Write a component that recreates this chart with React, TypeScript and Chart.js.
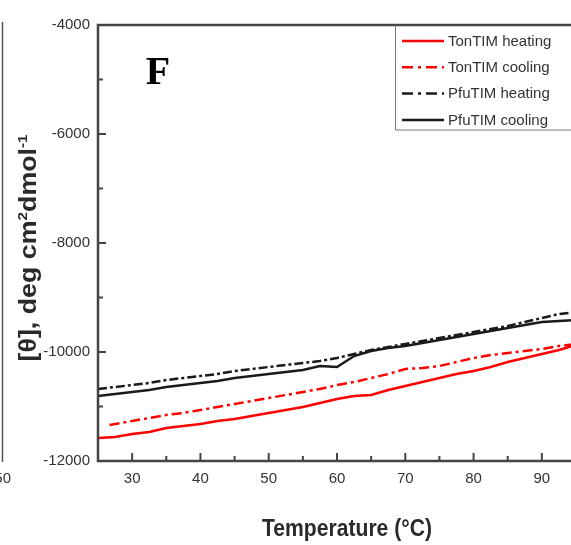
import { useEffect, useRef } from "react";
import { Chart, registerables } from "chart.js";

Chart.register(...registerables);

// ---------- data ----------
const TEMPS = [25, 27.5, 30, 32.5, 35, 37.5, 40, 42.5, 45, 47.5, 50, 52.5, 55, 57.5, 60, 62.5, 65, 67.5, 70, 72.5, 75, 77.5, 80, 82.5, 85, 87.5, 90, 92.5, 95];
const TON_COOL_TEMPS = [26.7, 27.5, 30, 32.5, 35, 37.5, 40, 42.5, 45, 47.5, 50, 52.5, 55, 57.5, 60, 62.5, 65, 67.5, 70, 72.5, 75, 77.5, 80, 82.5, 85, 87.5, 90, 92.5, 95];

const TON_HEATING = [-11578, -11560, -11505, -11468, -11395, -11358, -11321, -11266, -11230, -11174, -11119, -11064, -11009, -10936, -10863, -10807, -10789, -10697, -10624, -10551, -10477, -10404, -10349, -10275, -10184, -10110, -10037, -9963, -9872];
const TON_COOLING = [-11340, -11321, -11266, -11211, -11156, -11119, -11064, -11009, -10954, -10899, -10844, -10789, -10734, -10679, -10606, -10551, -10477, -10404, -10312, -10294, -10257, -10184, -10110, -10055, -10018, -9982, -9945, -9890, -9853];
const PFU_HEATING = [-10679, -10642, -10606, -10569, -10514, -10477, -10440, -10404, -10349, -10312, -10275, -10239, -10202, -10165, -10110, -10037, -9963, -9908, -9853, -9798, -9743, -9688, -9633, -9578, -9523, -9450, -9376, -9303, -9266];
const PFU_COOLING = [-10807, -10771, -10734, -10697, -10642, -10606, -10569, -10532, -10477, -10440, -10404, -10367, -10330, -10257, -10275, -10074, -9982, -9927, -9890, -9835, -9780, -9725, -9670, -9615, -9560, -9505, -9450, -9431, -9413];

const SERIES_LABELS = ["TonTIM heating", "TonTIM cooling", "PfuTIM heating", "PfuTIM cooling"];

const X_MAJOR = [30, 40, 50, 60, 70, 80, 90];
const X_MINOR = [35, 45, 55, 65, 75, 85];
const Y_MAJOR = [-12000, -10000, -8000, -6000, -4000];
const Y_MINOR = [-11000, -9000, -7000, -5000];

const X_TITLE = "Temperature (\u00B0C)";
const PANEL_LABEL = "F";
const NEIGHBOUR_TICK = "50";

// ---------- styling ----------
const W = 590;
const H = 545;
const SANS = "'Liberation Sans', Arial, sans-serif";
const SERIF = "'Liberation Serif', 'Times New Roman', serif";
const AXIS_COLOR = "#444";
const TEXT_COLOR = "#333";

function pts(xs: number[], ys: number[]) {
  return xs.map((x, i) => ({ x, y: ys[i] }));
}

function drawFitted(ctx: CanvasRenderingContext2D, text: string, cx: number, baseY: number, font: string, target: number) {
  ctx.font = font;
  const w = ctx.measureText(text).width;
  const s = target / w;
  ctx.save();
  ctx.translate(cx, baseY);
  ctx.scale(s, 1);
  ctx.textAlign = "center";
  ctx.textBaseline = "alphabetic";
  ctx.fillText(text, 0, 0);
  ctx.restore();
}

const decor = {
  id: "decor",
  afterDraw(chart: any) {
    const { ctx, chartArea: a, scales } = chart;
    const xs = scales.x;
    const ys = scales.y;
    ctx.save();

    // inward tick marks
    ctx.strokeStyle = AXIS_COLOR;
    ctx.lineWidth = 2;
    ctx.beginPath();
    for (const v of X_MAJOR) {
      const p = xs.getPixelForValue(v);
      ctx.moveTo(p, a.bottom);
      ctx.lineTo(p, a.bottom - 8);
    }
    for (const v of X_MINOR) {
      const p = xs.getPixelForValue(v);
      ctx.moveTo(p, a.bottom);
      ctx.lineTo(p, a.bottom - 5);
    }
    for (const v of Y_MAJOR) {
      const p = ys.getPixelForValue(v);
      ctx.moveTo(a.left, p);
      ctx.lineTo(a.left + 8, p);
    }
    for (const v of Y_MINOR) {
      const p = ys.getPixelForValue(v);
      ctx.moveTo(a.left, p);
      ctx.lineTo(a.left + 5, p);
    }
    ctx.stroke();

    // frame (left, top, bottom)
    ctx.lineWidth = 2.5;
    ctx.beginPath();
    ctx.moveTo(a.right + 20, a.bottom);
    ctx.lineTo(a.left, a.bottom);
    ctx.lineTo(a.left, a.top);
    ctx.lineTo(a.right + 20, a.top);
    ctx.stroke();

    // legend box
    const lx = 395.5;
    ctx.lineWidth = 1;
    ctx.strokeStyle = "#777";
    ctx.beginPath();
    ctx.moveTo(a.right + 20, a.top + 105);
    ctx.lineTo(lx, a.top + 105);
    ctx.lineTo(lx, a.top);
    ctx.stroke();

    chart.data.datasets.forEach((ds: any, i: number) => {
      const y = 41 + i * 26.3;
      ctx.strokeStyle = ds.borderColor;
      ctx.lineWidth = 2.5;
      ctx.setLineDash(ds.legendDash || []);
      ctx.beginPath();
      ctx.moveTo(402, y);
      ctx.lineTo(444, y);
      ctx.stroke();
      ctx.setLineDash([]);
      ctx.fillStyle = TEXT_COLOR;
      ctx.font = `15px ${SANS}`;
      ctx.textAlign = "left";
      ctx.textBaseline = "middle";
      ctx.fillText(ds.label, 448, y + 0.5);
    });

    // panel label
    ctx.fillStyle = "#000";
    ctx.font = `bold 40px ${SERIF}`;
    ctx.textAlign = "center";
    ctx.textBaseline = "alphabetic";
    ctx.fillText(PANEL_LABEL, 158, 84);

    // x title
    ctx.fillStyle = "#2a2a2a";
    drawFitted(ctx, X_TITLE, 347, 536, `bold 23px ${SANS}`, 170);

    // y title: [θ], deg cm²dmol⁻¹ (rotated)
    const parts: [string, boolean][] = [["[\u03B8], deg cm", false], ["2", true], ["dmol", false], ["-1", true]];
    const big = `bold 23px ${SANS}`;
    const small = `bold 13px ${SANS}`;
    let total = 0;
    const widths = parts.map(([t, sup]) => {
      ctx.font = sup ? small : big;
      const w = ctx.measureText(t).width;
      total += w;
      return w;
    });
    const target = 227;
    const s = target / total;
    ctx.save();
    ctx.translate(36, 248);
    ctx.rotate(-Math.PI / 2);
    ctx.scale(s, 1);
    ctx.textAlign = "left";
    ctx.textBaseline = "alphabetic";
    let x = -total / 2;
    parts.forEach(([t, sup], i) => {
      ctx.font = sup ? small : big;
      ctx.fillText(t, x, sup ? -9 : 0);
      x += widths[i];
    });
    ctx.restore();

    // remnants of the neighbouring panel at the left edge
    ctx.strokeStyle = "#555";
    ctx.lineWidth = 1.5;
    ctx.beginPath();
    ctx.moveTo(2.5, 22);
    ctx.lineTo(2.5, 462);
    ctx.stroke();
    ctx.fillStyle = TEXT_COLOR;
    ctx.font = `15px ${SANS}`;
    ctx.textAlign = "right";
    ctx.textBaseline = "middle";
    ctx.fillText(NEIGHBOUR_TICK, 11, 479);

    ctx.restore();
  },
};

export default function App() {
  const ref = useRef<HTMLCanvasElement | null>(null);

  useEffect(() => {
    if (!ref.current) return;
    const chart = new Chart(ref.current, {
      type: "line",
      data: {
        datasets: [
          {
            label: SERIES_LABELS[0],
            data: pts(TEMPS, TON_HEATING),
            borderColor: "#ff0000",
            borderWidth: 2.5,
            pointRadius: 0,
          },
          {
            label: SERIES_LABELS[1],
            data: pts(TON_COOL_TEMPS, TON_COOLING),
            borderColor: "#ff0000",
            borderWidth: 2.5,
            borderDash: [10, 4, 3, 4],
            legendDash: [11, 5, 3, 5],
            pointRadius: 0,
          },
          {
            label: SERIES_LABELS[2],
            data: pts(TEMPS, PFU_HEATING),
            borderColor: "#1a1a1a",
            borderWidth: 2.5,
            borderDash: [9, 3, 3, 3],
            legendDash: [11, 5, 3, 5],
            pointRadius: 0,
          },
          {
            label: SERIES_LABELS[3],
            data: pts(TEMPS, PFU_COOLING),
            borderColor: "#1a1a1a",
            borderWidth: 2.5,
            pointRadius: 0,
          },
        ] as any,
      },
      options: {
        animation: false,
        responsive: false,
        devicePixelRatio: 1,
        layout: { padding: { left: 0, top: 25, right: W - 576, bottom: 0 } },
        plugins: {
          legend: { display: false },
          title: { display: false },
          tooltip: { enabled: false },
        },
        scales: {
          x: {
            type: "linear",
            min: 25,
            max: 95,
            afterBuildTicks: (sc: any) => {
              sc.ticks = X_MAJOR.map((v) => ({ value: v }));
            },
            afterFit: (sc: any) => {
              sc.height = H - 461;
            },
            grid: { display: false, drawTicks: false },
            border: { display: false },
            ticks: {
              padding: 9,
              color: TEXT_COLOR,
              font: { family: SANS, size: 15 },
              maxRotation: 0,
              autoSkip: false,
              callback: (v: any) => String(v),
            },
          },
          y: {
            type: "linear",
            min: -12000,
            max: -4000,
            afterBuildTicks: (sc: any) => {
              sc.ticks = Y_MAJOR.map((v) => ({ value: v }));
            },
            afterFit: (sc: any) => {
              sc.width = 98;
            },
            grid: { display: false, drawTicks: false },
            border: { display: false },
            ticks: {
              padding: 8,
              color: TEXT_COLOR,
              font: { family: SANS, size: 15 },
              autoSkip: false,
              callback: (v: any) => String(v),
            },
          },
        },
      },
      plugins: [decor],
    });
    return () => chart.destroy();
  }, []);

  return (
    <div
      style={{
        position: "fixed",
        left: 0,
        top: 0,
        width: 571,
        height: 545,
        overflow: "hidden",
        background: "#fff",
      }}
    >
      <canvas ref={ref} width={W} height={H} style={{ width: W, height: H, display: "block" }} />
    </div>
  );
}
